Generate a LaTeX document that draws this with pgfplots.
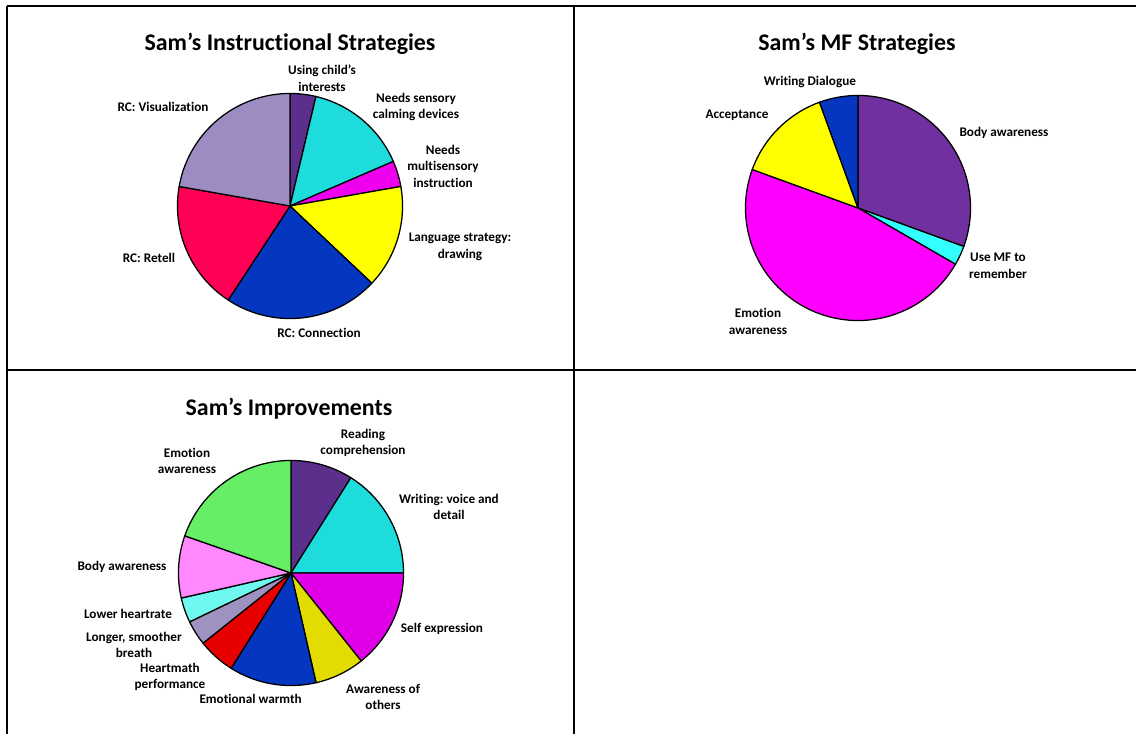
\documentclass[border=0pt]{standalone}
\usepackage{pgfplots}
\pgfplotsset{compat=1.18}
\usepackage{fontspec}
\setmainfont{Carlito}[Ligatures={NoCommon}]
\frenchspacing

\definecolor{dpurple}{HTML}{5C2F8C}
\definecolor{turq}{HTML}{1EDCDC}
\definecolor{magA}{HTML}{EE00EE}
\definecolor{yel}{HTML}{FFFF00}
\definecolor{blueA}{HTML}{0536C0}
\definecolor{crimson}{HTML}{FF0055}
\definecolor{lav}{HTML}{9C8CC2}
\definecolor{purp}{HTML}{7030A0}
\definecolor{cyanB}{HTML}{33FFFF}
\definecolor{magB}{HTML}{FF00FF}
\definecolor{magC}{HTML}{E000E8}
\definecolor{olive}{HTML}{E2DC00}
\definecolor{redA}{HTML}{E60000}
\definecolor{lav2}{HTML}{9E92C0}
\definecolor{lcyan}{HTML}{6EF8F0}
\definecolor{pink}{HTML}{FF88FF}
\definecolor{green}{HTML}{66EE66}

\newcommand\ttl{\fontsize{17.9}{21}\selectfont\bfseries}
\newcommand\lbl{\fontsize{9.9}{12.4}\selectfont\bfseries}
\newcommand\ap{{\char"0027}}

% pie helpers: slice sizes are the plain counts passed to \pieslice
\newcommand\pieinit[1]{\gdef\pietotal{#1}\gdef\piecum{0}}
\newcommand\pieslice[2]{%
  \pgfmathsetmacro\pb{90-360*(\piecum/\pietotal)}%
  \pgfmathsetmacro\newcum{\piecum+#1}%
  \xdef\piecum{\newcum}%
  \pgfmathsetmacro\pa{90-360*(\piecum/\pietotal)}%
  \edef\doplot{\noexpand\addplot[draw=black, line width=0.95pt, line join=round, fill=#2, domain=\pa:\pb, samples=90] ({cos(x)},{sin(x)}) -- (axis cs:0,0) -- cycle;}%
  \doplot
}
\pgfplotsset{pie/.style={hide axis, x=84.4pt, y=84.4pt, xmin=-1.1, xmax=1.1, ymin=-1.1, ymax=1.1, anchor=center, clip=false}}

\begin{document}
\begin{tikzpicture}
\begin{scope}[x=0.75pt,y=-0.75pt]
\useasboundingbox (0,0) rectangle (1136,734);
\fill[white] (0,0) rectangle (1136,734);
\draw[line width=1.5pt] (7,6) -- (1145,6);
\draw[line width=1.5pt] (7,6) -- (7,745);
\draw[line width=1.5pt] (574,6) -- (574,745);
\draw[line width=1.5pt] (7,370.5) -- (1145,370.5);
\end{scope}

% Pie 1
\begin{axis}[pie, at={(217.5pt,-154.5pt)}]
\pieinit{27}
\pieslice{1}{dpurple}
\pieslice{4}{turq}
\pieslice{1}{magA}
\pieslice{4}{yel}
\pieslice{6}{blueA}
\pieslice{5}{crimson}
\pieslice{6}{lav}
\end{axis}

% Pie 2
\begin{axis}[pie, at={(643.5pt,-156pt)}]
\pieinit{36}
\pieslice{11}{purp}
\pieslice{1}{cyanB}
\pieslice{17}{magB}
\pieslice{5}{yel}
\pieslice{2}{blueA}
\end{axis}

% Pie 3
\begin{axis}[pie, at={(218.25pt,-429.75pt)}]
\pieinit{56}
\pieslice{5}{dpurple}
\pieslice{9}{turq}
\pieslice{8}{magC}
\pieslice{4}{olive}
\pieslice{7}{blueA}
\pieslice{3}{redA}
\pieslice{2}{lav2}
\pieslice{2}{lcyan}
\pieslice{5}{pink}
\pieslice{11}{green}
\end{axis}

\begin{scope}[x=0.75pt,y=-0.75pt, every node/.style={inner sep=0pt, align=center, font=\lbl}]
\node[font=\ttl] at (290,44) {Sam\ap s Instructional Strategies};
\node at (322,78) {Using child\ap s\\interests};
\node at (416,107) {Needs sensory\\calming devices};
\node at (443,166) {Needs\\multisensory\\instruction};
\node at (460,247) {Language strategy:\\drawing};
\node at (319,333) {RC: Connection};
\node at (149,258) {RC: Retell};
\node at (163,107) {RC: Visualization};

\node[font=\ttl] at (857,44) {Sam\ap s MF Strategies};
\node at (810,82) {Writing Dialogue};
\node at (737,115.5) {Acceptance};
\node at (1004,133) {Body awareness};
\node at (998,266) {Use MF to\\remember};
\node at (758,321.5) {Emotion\\awareness};

\node[font=\ttl] at (289,409) {Sam\ap s Improvements};
\node at (363,443) {Reading\\comprehension};
\node at (187,461) {Emotion\\awareness};
\node at (449,507) {Writing: voice and\\detail};
\node at (122,567) {Body awareness};
\node at (442,629) {Self expression};
\node at (128,614) {Lower heartrate};
\node at (134,645) {Longer, smoother\\breath};
\node at (170,677) {Heartmath\\performance};
\node at (250.6,699) {Emotional warmth};
\node at (383,697) {Awareness of\\others};
\end{scope}
\end{tikzpicture}
\end{document}
